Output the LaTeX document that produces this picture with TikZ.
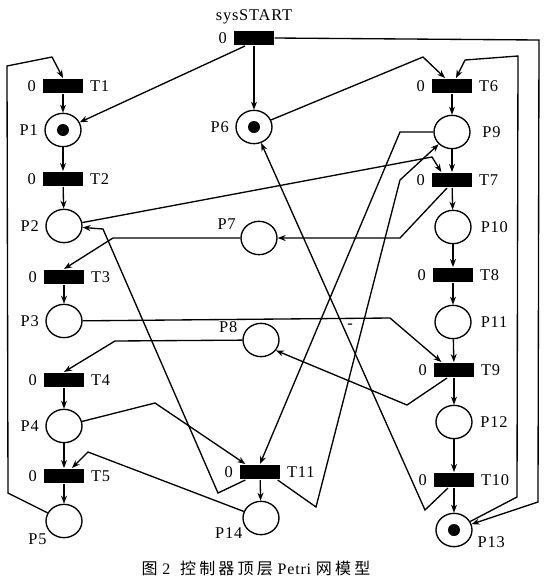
\documentclass[tikz,border=0pt]{standalone}
\usepackage{fontspec}
\setmainfont{Liberation Serif}[LetterSpace=5]
\newfontfamily\cjk{Noto Sans CJK SC}[LetterSpace=20]
\usetikzlibrary{arrows.meta,shapes.geometric,calc}

\begin{document}
\begin{tikzpicture}[x=0.75pt, y=-0.75pt, line width=1pt, label distance=1pt,
        every node/.style={font=\fontsize{12.3}{14}\selectfont},
        place/.style={draw, ellipse, minimum width=27pt, minimum height=25pt, inner sep=0pt},
        trans/.style={fill=black, minimum width=30pt, minimum height=11pt, inner sep=0pt},
        token/.style={circle, fill=black, minimum size=9pt, inner sep=0pt},
        arc/.style={-{Stealth[length=6pt, width=4.5pt]}}]
        \useasboundingbox (0,0) rectangle (548,583);

        % start transition
        \node[trans, label=above:sysSTART, label=left:0] (t0) at (254,38) {};

        % left column
        \node[trans, label=left:0, label=right:T1] (t1) at (63,86) {};
        \node[place, label=left:P1] (p1) at (63,130) {};
        \node[token] (k1) at (p1) {};
        \node[trans, label=left:0, label=right:T2] (t2) at (63,179) {};
        \node[place, label=left:P2] (p2) at (64,226) {};
        \node[trans, label=left:0, label=right:T3] (t3) at (64,277) {};
        \node[place, label=left:P3] (p3) at (64,321) {};
        \node[trans, label=left:0, label=right:T4] (t4) at (64,380) {};
        \node[place, label=left:P4] (p4) at (64,426) {};
        \node[trans, label=left:0, label=right:T5] (t5) at (64,476) {};
        \node[place, label={[label distance=-3pt]210:P5}] (p5) at (64,521) {};

        % middle
        \node[place, label=left:P6] (p6) at (254,127) {};
        \node[token] (k6) at (p6) {};
        \node[place, label={[label distance=0pt]168:P7}] (p7) at (259,238) {};
        \node[place, label={[label distance=0pt]174:P8}] (p8) at (261,340) {};
        \node[trans, label=left:0, label=right:T11] (t11) at (260,472) {};
        \node[place, label={[label distance=-3pt]200:P14}] (p14) at (261,518) {};
        \node (spk) at (350,326) {-};

        % right column
        \node[trans, label=left:0, label=right:T6] (t6) at (452,86) {};
        \node[place, label={[label distance=5pt]right:P9}] (p9) at (452,132) {};
        \node[trans, label=left:0, label=right:T7] (t7) at (452,180) {};
        \node[place, label={[label distance=3pt]right:P10}] (p10) at (453,227) {};
        \node[trans, label=left:0, label=right:T8] (t8) at (453,275) {};
        \node[place, label={[label distance=3pt]right:P11}] (p11) at (453,322) {};
        \node[trans, label=left:0, label=right:T9] (t9) at (454,370) {};
        \node[place, label={[label distance=2pt]right:P12}] (p12) at (454,422) {};
        \node[trans, label=left:0, label=right:T10] (t10) at (454,480) {};
        \node[place, label={[label distance=0pt]-5:P13}] (p13) at (454,530) {};
        \node[token] (k13) at (p13) {};

        % straight arcs down the columns
        \foreach \a/\b in {t0/p6, t1/p1, p1/t2, t2/p2, t3/p3, t4/p4, p4/t5, t5/p5, t11/p14,
                t6/p9, p9/t7, t7/p10, p10/t8, t8/p11, p11/t9, t9/p12, p12/t10, t10/p13}
            \draw[arc] (\a) -- (\b);

        % arcs with bends
        \draw[arc] ($(t0.south)+(-9,0)$) -- (p1);
        \draw[arc] (t0.east) -- (539,40) -- (538,502) -- (p13);
        \draw[arc] (p13) -- (517,497) -- (518,56) -- (465,60) -- ($(t6.north)+(4,0)$);
        \draw[arc] (p6) -- (423,57) -- ($(t6.north)+(-7,0)$);
        \draw[arc] (p5) -- (8,493) -- (7,66) -- (52,57) -- (t1.north);
        \draw[arc] (p2) -- (432,157) -- ($(t7.north west)+(10,0)$);
        \draw[arc] (p7) -- (113,238) -- (t3.north);
        \draw[arc] ($(t7.south)+(-5,0)$) -- (400,238) -- (p7);
        \draw[arc] (p3) -- (390,318) -- ($(t9.north west)+(8,0)$);
        \draw[arc] (p8) -- (115,341) -- (t4.north);
        \draw[arc] ($(t9.south)+(-7,0)$) -- (407,405) -- (p8.-35);
        \draw[arc] ($(t11.south west)+(6,0)$) -- (218,493) -- (103,229) -- (p2);
        \draw[arc] (p4) -- (155,403) -- ($(t11.north west)+(6,0)$);
        \draw[arc] (p14) -- (88,452) -- ($(t5.north)+(8,0)$);
        \draw[arc] (p9) -- (400,132) -- (t11.north);
        \draw[arc] ($(t11.south east)+(-3,0)$) -- (316,507) -- (400,180) -- (p9);
        \draw[arc] ($(t10.south)+(-6,0)$) -- (425,510) -- (p6);

        \node[font=\fontsize{12}{14}\selectfont] (cap) at (256,568) {{\cjk 图}\ 2 \ {\cjk 控制器顶层}\ Petri\ {\cjk 网模型}};
    \end{tikzpicture}
\end{document}
